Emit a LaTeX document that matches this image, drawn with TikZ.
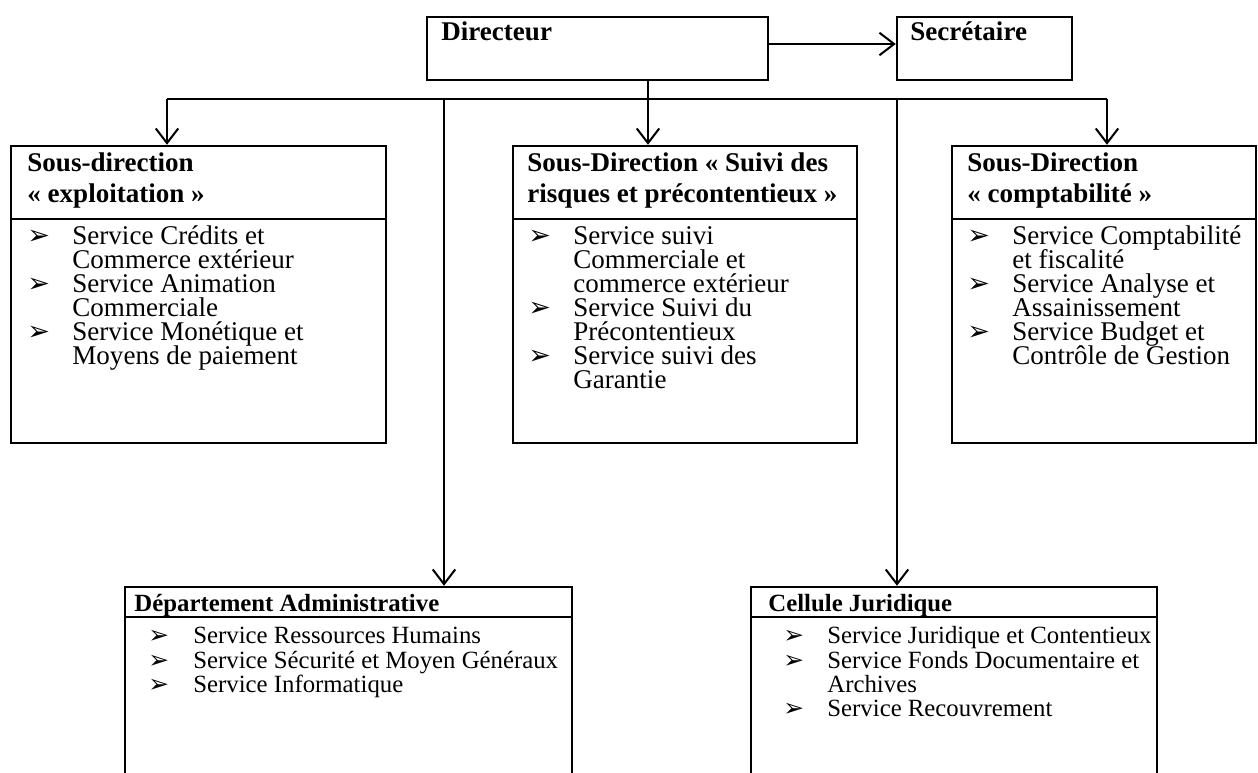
\documentclass[tikz,border=0pt]{standalone}
\usepackage{fontspec}
\setmainfont{Liberation Serif}
\newfontfamily\symfont{DejaVu Sans}
\usetikzlibrary{arrows.meta,fit}
\begin{document}
\begin{tikzpicture}[x=0.444pt,y=-0.444pt,
  box/.style={draw, line width=1.1pt, inner sep=0pt},
  sepline/.style={line width=1.1pt},
  wire/.style={line width=0.9pt},
  conn/.style={line width=0.9pt, -{Straight Barb[length=6.5pt,width=10pt,line width=0.9pt]}},
  txt/.style={anchor=base west, inner sep=0pt, font=\fontsize{12}{13.8}\selectfont},
  ttl/.style={anchor=base west, inner sep=0pt, font=\fontsize{12}{13.8}\selectfont\bfseries},
  bul/.style={anchor=base west, inner sep=0pt, font=\symfont\fontsize{12}{14}\selectfont},
  stxt/.style={txt, font=\fontsize{11}{13}\selectfont},
  sttl/.style={ttl, font=\fontsize{11}{13}\selectfont\bfseries},
  sbul/.style={bul, font=\symfont\fontsize{11}{13}\selectfont}
]
\useasboundingbox (0,0) rectangle (1258,773);
\clip (0,0) rectangle (1258,773);
\fill[white] (0,0) rectangle (1258,773);

% box corners
\coordinate (dirA) at (427,17);  \coordinate (dirB) at (768,80);
\coordinate (secA) at (897,17);  \coordinate (secB) at (1072,80);
\coordinate (sd1A) at (11,146);  \coordinate (sd1B) at (386,443);
\coordinate (sd2A) at (513,146); \coordinate (sd2B) at (857,443);
\coordinate (sd3A) at (952,146); \coordinate (sd3B) at (1256,443);
\coordinate (depA) at (125,587); \coordinate (depB) at (572,800);
\coordinate (celA) at (751,587); \coordinate (celB) at (1157,800);

\node[box, fit=(dirA)(dirB)] (dir) {};
\node[box, fit=(secA)(secB)] (sec) {};
\node[box, fit=(sd1A)(sd1B)] (sd1) {};
\node[box, fit=(sd2A)(sd2B)] (sd2) {};
\node[box, fit=(sd3A)(sd3B)] (sd3) {};
\node[box, fit=(depA)(depB)] (dep) {};
\node[box, fit=(celA)(celB)] (cel) {};

% header separators
\coordinate (sepT) at (0,219);
\coordinate (sepB) at (0,617);
\draw[sepline] (sd1.west |- sepT) -- (sd1.east |- sepT);
\draw[sepline] (sd2.west |- sepT) -- (sd2.east |- sepT);
\draw[sepline] (sd3.west |- sepT) -- (sd3.east |- sepT);
\draw[sepline] (dep.west |- sepB) -- (dep.east |- sepB);
\draw[sepline] (cel.west |- sepB) -- (cel.east |- sepB);

% connectors
\coordinate (ja) at (0,44);
\coordinate (j1) at (167,99);
\coordinate (jD) at (444,99);
\coordinate (j2) at (648,99);
\coordinate (jC) at (897,99);
\coordinate (j3) at (1107,99);
\draw[conn] (dir.east |- ja) -- (sec.west |- ja);
\draw[wire] (j1) -- (j3);
\draw[conn] (dir.south -| j2) -- (sd2.north -| j2);
\draw[conn] (j1) -- (sd1.north -| j1);
\draw[conn] (j3) -- (sd3.north -| j3);
\draw[conn] (jD) -- (dep.north -| jD);
\draw[conn] (jC) -- (cel.north -| jC);

% top titles
\node[ttl] (tdir) at (441,40) {Directeur};
\node[ttl] (tsec) at (910,40) {Secrétaire};

% Sous-direction exploitation
\node[ttl] (t1a) at (27,171) {Sous-direction};
\node[ttl] (t1b) at (27,203) {« exploitation »};
\node[bul] (b1a) at (27,244) {➢};
\node[txt] (l1a) at (72,244) {Service Crédits et};
\node[txt] (l1b) at (72,268) {Commerce extérieur};
\node[bul] (b1b) at (27,292) {➢};
\node[txt] (l1c) at (72,292) {Service Animation};
\node[txt] (l1d) at (72,316) {Commerciale};
\node[bul] (b1c) at (27,340) {➢};
\node[txt] (l1e) at (72,340) {Service Monétique et};
\node[txt] (l1f) at (72,364) {Moyens de paiement};

% Sous-Direction suivi des risques
\node[ttl] (t2a) at (527,171) {Sous-Direction « Suivi des};
\node[ttl] (t2b) at (527,203) {risques et précontentieux »};
\node[bul] (b2a) at (528,244) {➢};
\node[txt] (l2a) at (573,244) {Service suivi};
\node[txt] (l2b) at (573,268) {Commerciale et};
\node[txt] (l2c) at (573,292) {commerce extérieur};
\node[bul] (b2b) at (528,316) {➢};
\node[txt] (l2d) at (573,316) {Service Suivi du};
\node[txt] (l2e) at (573,340) {Précontentieux};
\node[bul] (b2c) at (528,364) {➢};
\node[txt] (l2f) at (573,364) {Service suivi des};
\node[txt] (l2g) at (573,388) {Garantie};

% Sous-Direction comptabilite
\node[ttl] (t3a) at (967,171) {Sous-Direction};
\node[ttl] (t3b) at (967,203) {« comptabilité »};
\node[bul] (b3a) at (967,244) {➢};
\node[txt] (l3a) at (1012,244) {Service Comptabilité};
\node[txt] (l3b) at (1012,268) {et fiscalité};
\node[bul] (b3b) at (967,292) {➢};
\node[txt] (l3c) at (1012,292) {Service Analyse et};
\node[txt] (l3d) at (1012,316) {Assainissement};
\node[bul] (b3c) at (967,340) {➢};
\node[txt] (l3e) at (1012,340) {Service Budget et};
\node[txt] (l3f) at (1012,364) {Contrôle de Gestion};

% Departement Administrative
\node[sttl] (t4) at (134,611) {Département Administrative};
\node[sbul] (b4a) at (148,643) {➢};
\node[stxt] (l4a) at (193,643) {Service Ressources Humains};
\node[sbul] (b4b) at (148,668) {➢};
\node[stxt] (l4b) at (193,668) {Service Sécurité et Moyen Généraux};
\node[sbul] (b4c) at (148,692) {➢};
\node[stxt] (l4c) at (193,692) {Service Informatique};

% Cellule Juridique
\node[sttl] (t5) at (768,611) {Cellule Juridique};
\node[sbul] (b5a) at (783,643) {➢};
\node[stxt] (l5a) at (827,643) {Service Juridique et Contentieux};
\node[sbul] (b5b) at (783,668) {➢};
\node[stxt] (l5b) at (827,668) {Service Fonds Documentaire et};
\node[stxt] (l5c) at (827,692) {Archives};
\node[sbul] (b5c) at (783,716) {➢};
\node[stxt] (l5d) at (827,716) {Service Recouvrement};
\end{tikzpicture}
\end{document}
